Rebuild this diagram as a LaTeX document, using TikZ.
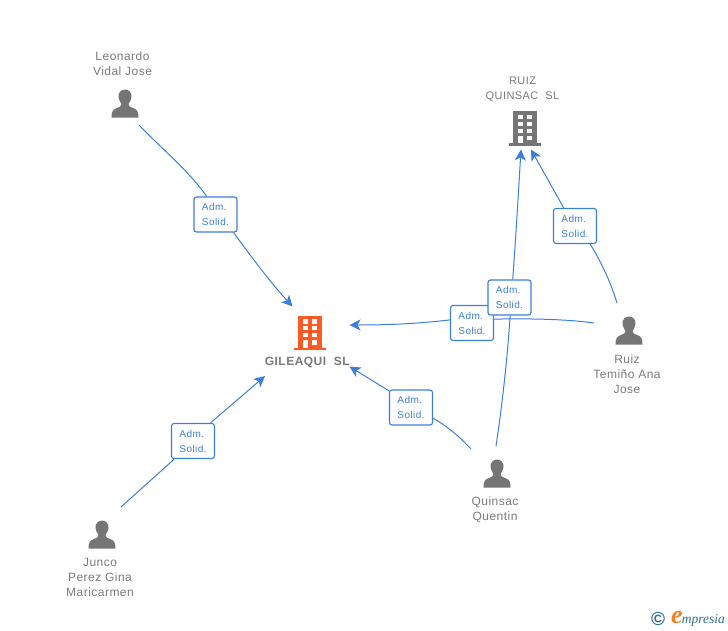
\documentclass[tikz,border=0pt]{standalone}
\usepackage{fontspec}
\setmainfont[LetterSpace=4]{Liberation Sans}
\newfontfamily\logofont{Liberation Serif}
\usetikzlibrary{arrows.meta}

\definecolor{linkblue}{HTML}{3B7FDD}
\definecolor{icongray}{HTML}{757575}
\definecolor{textgray}{HTML}{7A7A7A}
\definecolor{iconorange}{HTML}{FF5A26}
\definecolor{logoteal}{HTML}{2F6F8F}
\definecolor{logoorange}{HTML}{F08020}

\tikzset{
  caption/.style={text=textgray, align=center, inner sep=0pt, font=\fontsize{12}{15}\selectfont},
  rel/.style={draw=linkblue, fill=white, rounded corners=2.5pt, line width=1.1pt, text=linkblue, align=left,
    minimum width=43pt, minimum height=35pt, inner sep=0pt, font=\fontsize{10}{15}\selectfont},
  link/.style={draw=linkblue, line width=1pt},
  linkarrow/.style={link, -{Stealth[length=11pt, width=11pt, inset=3pt]}},
  person/.pic={
    \fill[icongray] (0,-14.5) .. controls (-4,-14.5) and (-7,-11) .. (-6.5,-7)
      .. controls (-6.3,-4) and (-4.5,-1.5) .. (-3.5,0) .. controls (-3.5,2) and (-5,3) .. (-8,4)
      .. controls (-12,5.5) and (-13.5,7) .. (-13.5,13.5) -- (13.5,13.5)
      .. controls (13.5,7) and (12,5.5) .. (8,4) .. controls (5,3) and (3.5,2) .. (3.5,0)
      .. controls (4.5,-1.5) and (6.3,-4) .. (6.5,-7) .. controls (7,-11) and (4,-14.5) .. (0,-14.5) -- cycle;
  },
  building/.pic={
    \fill[pic actions] (-12,-17) rectangle (12,15);
    \fill[pic actions] (-16,15) rectangle (16,17.5);
    \foreach \row in {-11,-4.3,2.7} {
      \fill[white] (-7.5,\row-2.2) rectangle (-2.5,\row+2.2);
      \fill[white] (2,\row-2.2) rectangle (7,\row+2.2);
    }
    \fill[white] (-7.5,7.5) rectangle (-2.5,15);
    \fill[white] (2,7.5) rectangle (7,12);
  },
}

\begin{document}
\begin{tikzpicture}[x=1pt,y=-1pt]
\useasboundingbox (0,0) rectangle (728,630);

% companies
\pic[fill=icongray] at (525,128) {building};
\pic[fill=iconorange] at (310,332.5) {building};
\node[caption] (gileaqui) at (307.5,362) {\textbf{GILEAQUI\ \ SL}};
\node[caption, font=\fontsize{11}{15}\selectfont] (ruizq) at (522.5,89.5) {RUIZ\\QUINSAC\ \ SL};

% people
\pic at (125,104) {person};
\pic at (629,331) {person};
\pic at (497,474) {person};
\pic at (102,535) {person};
\node[caption] (leonardo) at (122.5,64) {Leonardo\\Vidal Jose};
\node[caption] (ruiz) at (627,374.5) {Ruiz\\Temiño Ana\\Jose};
\node[caption] (quinsac) at (495,510) {Quinsac\\Quentin};
\node[caption] (junco) at (100,577.5) {Junco\\Perez Gina\\Maricarmen};

% free ends of the links
\coordinate (fromLeo) at (139,125);
\coordinate (toLeo) at (292.5,306.5);
\coordinate (fromJunco) at (121,507);
\coordinate (toJunco) at (265,376);
\coordinate (fromQuinG) at (471,449);
\coordinate (toQuinG) at (349.5,366.5);
\coordinate (fromRuizG) at (594,323);
\coordinate (toRuizG) at (349.5,325);
\coordinate (fromQuinR) at (496,446);
\coordinate (toQuinR) at (521,149.5);
\coordinate (fromRuizR) at (617,303);
\coordinate (toRuizR) at (531,149.5);

% labels
\node[rel] (a) at (215.5,214.5) {Adm.\\Solid.};
\node[rel] (b) at (193,441) {Adm.\\Solid.};
\node[rel] (c) at (411,407.5) {Adm.\\Solid.};
\node[rel] (d) at (472,323) {Adm.\\Solid.};
\node[rel] (e) at (509.5,297.5) {Adm.\\Solid.};
\node[rel] (f) at (575,226) {Adm.\\Solid.};

\path[link] (fromLeo) .. controls (160,147) and (190,172) .. (a.116);
\path[linkarrow] (a.-45) .. controls (250,255) and (270,282) .. (toLeo);
\path[link] (fromJunco) -- (b.-136);
\path[linkarrow] (b.46) -- (toJunco);
\path[link] (fromQuinG) .. controls (460,437) and (447,426) .. (c.-26);
\path[linkarrow] (c.143) -- (toQuinG);
\path[link] (fromRuizG) .. controls (565,319) and (530,318.5) .. (d.10);
\path[linkarrow] (d.172) .. controls (415,324) and (385,325) .. (toRuizG);
\path[link] (fromQuinR) .. controls (503,400) and (508,350) .. (e.-88);
\path[linkarrow] (e.80) .. controls (515,250) and (518,200) .. (toQuinR);
\path[link] (fromRuizR) .. controls (610,280) and (600,260) .. (f.-50);
\path[linkarrow] (f.122) -- (toRuizR);

% logo
\node[text=logoteal, inner sep=0pt, font=\bfseries\fontsize{19}{19}\selectfont] (copyr) at (658,619) {©};
\node[text=logoorange, inner sep=0pt, font=\logofont\itshape\bfseries\fontsize{26}{26}\selectfont] (logoe) at (677,617) {e};
\node[text=logoteal, inner sep=0pt, anchor=east, font=\logofont\itshape\fontsize{13.5}{15}\selectfont] (logotext) at (725,620) {mpresia};
\end{tikzpicture}
\end{document}
